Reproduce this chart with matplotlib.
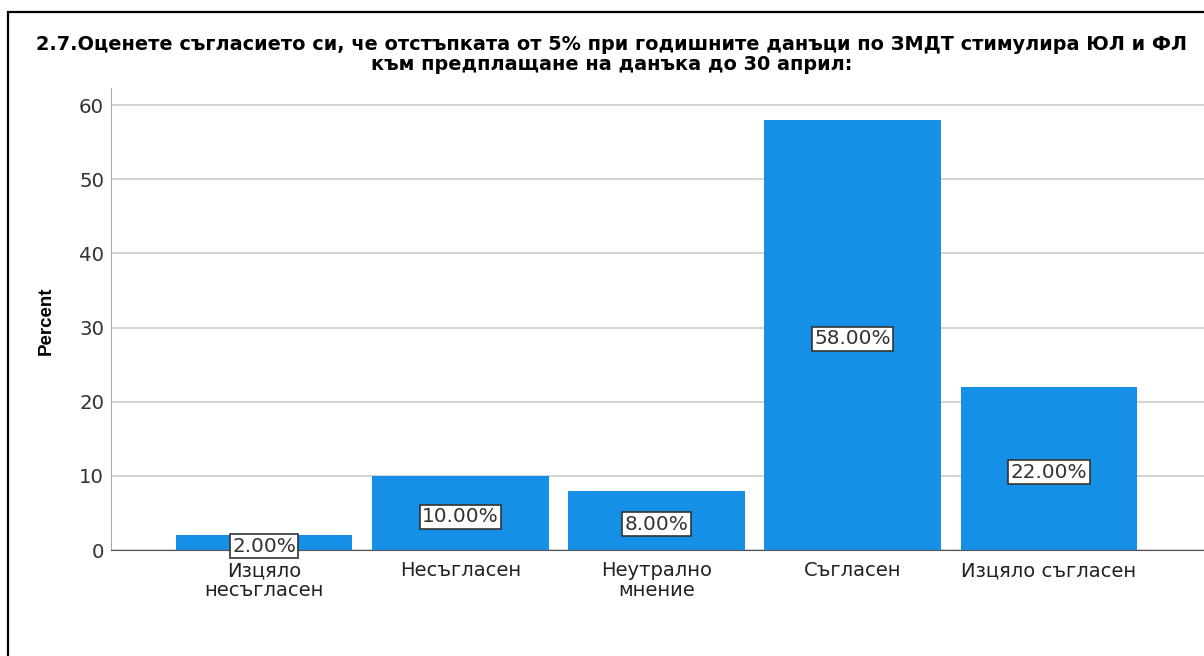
import matplotlib.pyplot as plt
from matplotlib.patches import Rectangle

plt.rcParams['font.family'] = ['DejaVu Sans']

categories = ["Изцяло\nнесъгласен", "Несъгласен", "Неутрално\nмнение", "Съгласен", "Изцяло съгласен"]
percents = [2.0, 10.0, 8.0, 58.0, 22.0]
title_lines = ["2.7.Оценете съгласието си, че отстъпката от 5% при годишните данъци по ЗМДТ стимулира ЮЛ и ФЛ",
               "към предплащане на данъка до 30 април:"]

fig = plt.figure(figsize=(12.04, 6.56), dpi=100)
fig.patch.set_facecolor('white')

# outer frame, runs past the right and bottom edges
fig.patches.append(Rectangle((8 / 1204, -0.1), 1.2, (656 - 12) / 656 + 0.1,
                             transform=fig.transFigure, fill=False,
                             edgecolor='black', linewidth=1.6))

ax = fig.add_axes([111 / 1204, 106 / 656, 1 - 111 / 1204, 462 / 656])
x = list(range(len(categories)))
ax.bar(x, percents, width=0.9, color='#1590e6', zorder=2)
ax.set_xlim(-0.78, 4.79)
ax.set_ylim(0, 62.3)
ax.set_yticks(range(0, 61, 10))
ax.set_xticks(x)
ax.set_xticklabels(categories, fontsize=14, color='#222222', linespacing=1.05)
ax.tick_params(axis='y', length=0, pad=5, labelsize=14.2, labelcolor='#333333')
ax.tick_params(axis='x', length=0, pad=8)
ax.yaxis.grid(True, color='#cccccc', linewidth=1.2, zorder=0)
ax.set_axisbelow(True)
for side in ['top', 'right']:
    ax.spines[side].set_visible(False)
ax.spines['left'].set_color('#aaaaaa')
ax.spines['bottom'].set_color('#555555')
ax.set_ylabel('Percent', fontsize=13.5, fontweight='bold', family='Liberation Sans')
ax.yaxis.set_label_coords(-0.0512, 0.496)

for xi, p in zip(x, percents):
    ax.text(xi, p / 2 - 0.5, f"{p:.2f}%", ha='center', va='center', fontsize=14.4,
            color='#333333', zorder=3,
            bbox=dict(boxstyle='square,pad=0.12', facecolor='white',
                      edgecolor='#333333', linewidth=1.2))

fig.text(612 / 1204, 1 - 45 / 656, title_lines[0], ha='center', va='center',
         fontsize=13.9, fontweight='bold')
fig.text(612 / 1204, 1 - 64 / 656, title_lines[1], ha='center', va='center',
         fontsize=13.9, fontweight='bold')

fig.savefig('out.png', dpi=100)
